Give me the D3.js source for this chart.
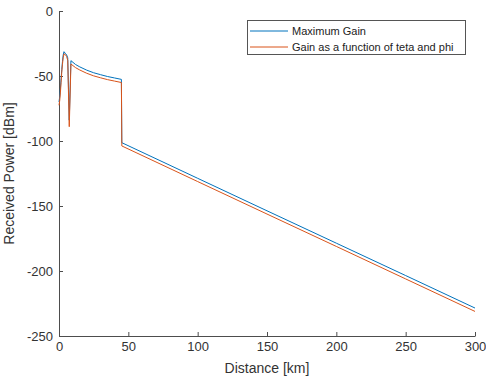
<!DOCTYPE html>
<html>
<head>
<meta charset="utf-8">
<script src="https://cdn.jsdelivr.net/npm/d3@7"></script>
<style>
  body { margin: 0; background: #fff; overflow: hidden; }
  svg { display: block; }
  text { font-family: "Liberation Sans", Arial, sans-serif; }
</style>
</head>
<body>
<div id="chart"></div>
<script>
// distance samples in km
let distance = [0, 0.5, 1, 1.5, 2, 2.5, 3, 3.6, 4.5, 5.5, 6.3, 7.4, 8.6, 12, 15, 20, 25, 30, 35, 40, 45, 45.3, 100, 150, 200, 250, 300];
// received power [dBm]
let maxGain = [-70, -66, -60, -52, -45, -39, -34, -31.3, -32.5, -33.8, -36, -84, -38.2, -41.2, -43, -45.5, -47.5, -49, -50.4, -51.5, -52.6, -101.3, -128.7, -153.7, -178.6, -203.5, -228.5];
let gainTetaPhi = [-72.5, -69, -63, -55, -47, -41, -36, -33, -33.5, -35, -38, -89, -40.8, -43.6, -45.4, -47.9, -49.9, -51.4, -52.8, -53.9, -55, -103.8, -131.2, -156.2, -181.1, -206.1, -231.1];

let seriesNames = ['Maximum Gain', 'Gain as a function of teta and phi'];
let seriesColors = ['#0072BD', '#D95319'];
let xTicks = [0, 50, 100, 150, 200, 250, 300];
let yTicks = [0, -50, -100, -150, -200, -250];

let totalWidth = 486;
let totalHeight = 380;
let margin = { top: 11, right: 11, bottom: 44, left: 59 };
let innerWidth = totalWidth - margin.left - margin.right;
let innerHeight = totalHeight - margin.top - margin.bottom;

let x = d3.scaleLinear().domain([0, 300]).range([0, innerWidth]);
let y = d3.scaleLinear().domain([-250, 0]).range([innerHeight, 0]);

let svg = d3.select("#chart").append("svg")
    .attr("width", totalWidth)
    .attr("height", totalHeight)
    .append("g")
    .attr("transform", "translate(" + margin.left + "," + margin.top + ")");

let axisColor = "#4d4d4d";
let plain = function(d) { return String(d); };

// x axis
let gx = svg.append("g")
    .attr("transform", "translate(0," + innerHeight + ")")
    .call(d3.axisBottom(x).tickValues(xTicks).tickFormat(plain).tickSizeInner(-4).tickSizeOuter(0).tickPadding(6));
// y axis
let gy = svg.append("g")
    .call(d3.axisLeft(y).tickValues(yTicks).tickFormat(plain).tickSizeInner(-4).tickSizeOuter(0).tickPadding(6));

[gx, gy].forEach(function(g) {
    g.select(".domain").attr("stroke", axisColor);
    g.selectAll(".tick line").attr("stroke", axisColor);
    g.selectAll(".tick text")
        .attr("fill", "#333")
        .style("font-size", "13px")
        .style("font-family", "'Liberation Sans', Arial, sans-serif");
});

// axis labels
svg.append("text")
    .attr("x", innerWidth / 2)
    .attr("y", innerHeight + 37)
    .attr("text-anchor", "middle")
    .attr("fill", "#333")
    .style("font-size", "14px")
    .text("Distance [km]");

svg.append("text")
    .attr("transform", "translate(" + (-45) + "," + (innerHeight / 2) + ") rotate(-90)")
    .attr("text-anchor", "middle")
    .attr("fill", "#333")
    .style("font-size", "14px")
    .text("Received Power [dBm]");

// lines
let line = d3.line()
    .x(function(d) { return x(d[0]); })
    .y(function(d) { return y(d[1]); });

[maxGain, gainTetaPhi].forEach(function(vals, i) {
    svg.append("path")
        .datum(distance.map(function(d, j) { return [d, vals[j]]; }))
        .attr("fill", "none")
        .attr("stroke", seriesColors[i])
        .attr("stroke-width", 1)
        .attr("d", line);
});

// legend
let legend = svg.append("g")
    .attr("transform", "translate(" + (247 - margin.left) + "," + (20 - margin.top) + ")");
legend.append("rect")
    .attr("x", 0.5).attr("y", 0.5)
    .attr("width", 218).attr("height", 34)
    .attr("fill", "#fff")
    .attr("stroke", "#555");
seriesNames.forEach(function(name, i) {
    let cy = 11 + i * 16;
    legend.append("line")
        .attr("x1", 3).attr("x2", 41)
        .attr("y1", cy).attr("y2", cy)
        .attr("stroke", seriesColors[i]);
    legend.append("text")
        .attr("x", 45)
        .attr("y", cy)
        .attr("dy", "0.35em")
        .attr("fill", "#222")
        .style("font-size", "11px")
        .text(name);
});
</script>
</body>
</html>
